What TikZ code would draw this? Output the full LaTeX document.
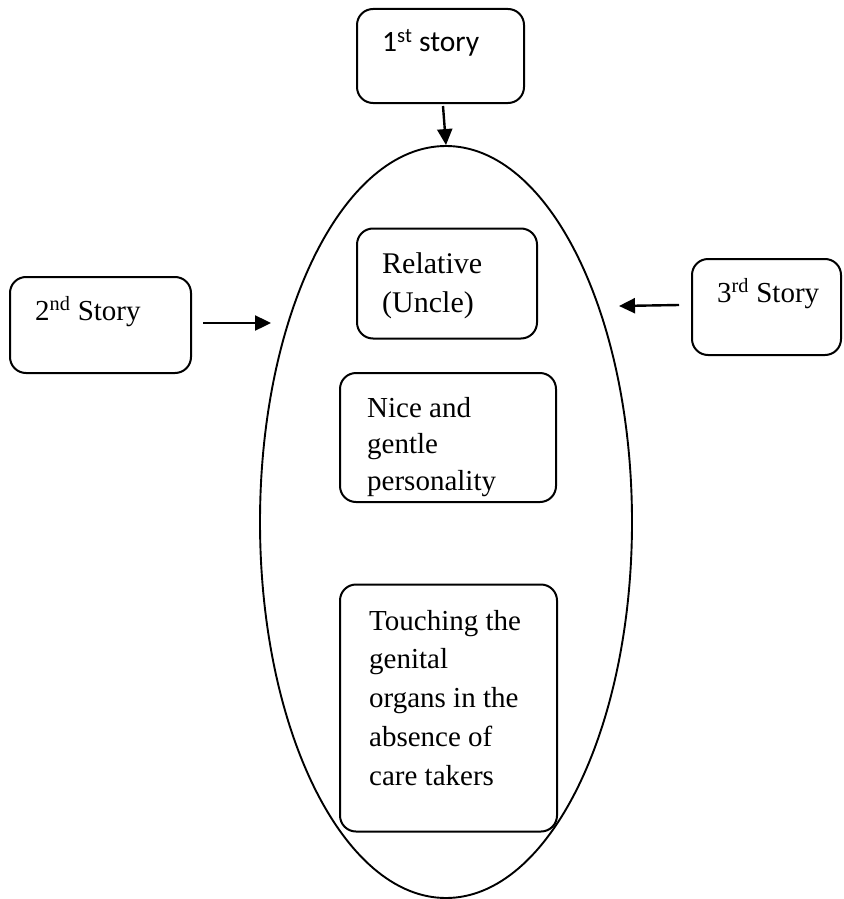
\documentclass[tikz,border=0pt]{standalone}
\usepackage{fontspec}
\setmainfont{Liberation Serif}
\newfontfamily\calib{Carlito}
\usetikzlibrary{shapes.geometric,arrows.meta}
\begin{document}
\begin{tikzpicture}[x=1pt,y=-1pt,
  rbox/.style={draw,line width=2pt,rounded corners=16pt,inner sep=0pt},
  txt/.style={inner sep=0pt,anchor=base west,align=left,font=\fontsize{29}{38.7}\selectfont},
  arr/.style={line width=2.4pt,-{Triangle[length=16pt,width=15pt]}}]
\useasboundingbox (0,0) rectangle (843,899);
\fill[white] (0,0) rectangle (843,899);
% ellipse
\node[draw,line width=1.9pt,ellipse,inner sep=0pt,minimum width=372pt,minimum height=752pt] (ell) at (446,522) {};
% boxes
\node[rbox,minimum width=167pt,minimum height=94pt] (b1) at (440.5,56) {};
\node[rbox,minimum width=181pt,minimum height=96pt] (b2) at (100.5,325) {};
\node[rbox,minimum width=149pt,minimum height=96pt] (b3) at (766.5,307) {};
\node[rbox,minimum width=180pt,minimum height=110pt] (rel) at (447,283.5) {};
\node[rbox,minimum width=216pt,minimum height=129pt] (nice) at (448,437.5) {};
\node[rbox,minimum width=217pt,minimum height=247pt] (touch) at (448.5,708) {};
% texts (base anchor = last line baseline)
\node[txt,font=\calib\fontsize{29.5}{34}\selectfont] (t1) at (382,52) {1\textsuperscript{st} story};
\node[txt] (t2) at (35,320) {2\textsuperscript{nd} Story};
\node[txt] (t3) at (717,302) {3\textsuperscript{rd} Story};
\node[txt,font=\fontsize{30}{39.5}\selectfont] (trel) at (382,312.5) {Relative\\(Uncle)};
\node[txt,font=\fontsize{29}{36.5}\selectfont] (tnice) at (367,490) {Nice and\\gentle\\personality};
\node[txt] (ttouch) at (369,785) {Touching the\\genital\\organs in the\\absence of\\care takers};
% arrows
\coordinate (a1s) at (443,106);
\coordinate (a2s) at (203,323);
\coordinate (a2e) at (271,323);
\coordinate (a3s) at (679,305);
\coordinate (a3e) at (619,306);
\draw[arr] (a1s) -- (ell.north);
\draw[arr] (a2s) -- (a2e);
\draw[arr] (a3s) -- (a3e);
\end{tikzpicture}
\end{document}
